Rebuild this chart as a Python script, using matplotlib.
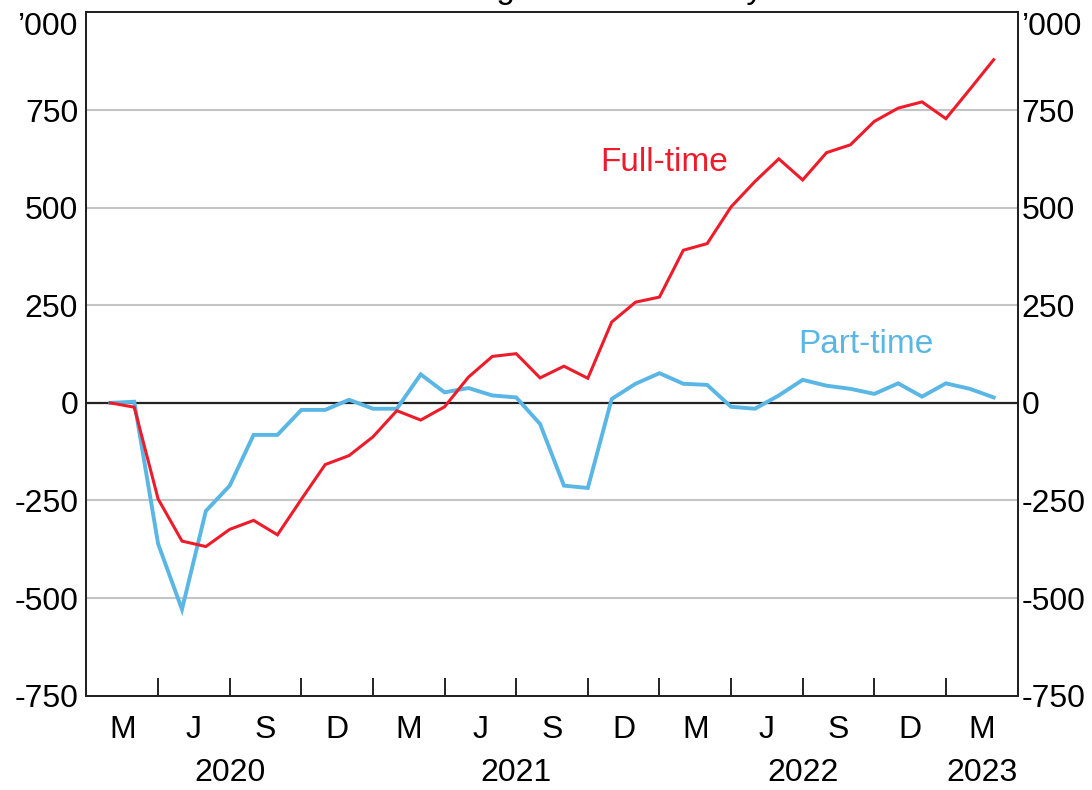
import matplotlib
matplotlib.use("Agg")
import matplotlib.pyplot as plt
import matplotlib.transforms as mtransforms

plt.rcParams['font.family'] = ['Liberation Sans', 'DejaVu Sans']

# Monthly data, Feb 2020 .. Mar 2023 (cumulative change, '000)
months = ["Feb-20", "Mar-20", "Apr-20", "May-20", "Jun-20", "Jul-20", "Aug-20", "Sep-20", "Oct-20", "Nov-20",
          "Dec-20", "Jan-21", "Feb-21", "Mar-21", "Apr-21", "May-21", "Jun-21", "Jul-21", "Aug-21", "Sep-21",
          "Oct-21", "Nov-21", "Dec-21", "Jan-22", "Feb-22", "Mar-22", "Apr-22", "May-22", "Jun-22", "Jul-22",
          "Aug-22", "Sep-22", "Oct-22", "Nov-22", "Dec-22", "Jan-23", "Feb-23", "Mar-23"]
full_time = [0, -11, -246, -354, -368, -324, -301, -338, -247, -158,
             -135, -87, -20, -44, -10, 66, 119, 126, 64, 94,
             63, 207, 258, 271, 391, 408, 502, 567, 625, 571,
             641, 661, 721, 755, 771, 728, 803, 879]
part_time = [0, 3, -361, -529, -277, -212, -82, -82, -18, -18,
             8, -15, -15, 73, 27, 38, 19, 14, -54, -212,
             -218, 10, 49, 76, 49, 46, -10, -15, 19, 59,
             44, 36, 23, 50, 16, 50, 36, 14]

quarter_labels = ["M", "J", "S", "D", "M", "J", "S", "D", "M", "J", "S", "D", "M"]
year_labels = ["2020", "2021", "2022", "2023"]
year_month_index = [6, 18, 30, 37.5]   # position in months from 1 Feb 2020
yticks = [-750, -500, -250, 0, 250, 500, 750, 1000]
ytick_labels = ["-750", "-500", "-250", "0", "250", "500", "750", "\u2019000"]

RED = "#ee1c2a"
BLUE = "#5ab6e4"
FS = 23

fig = plt.figure(figsize=(10.92, 7.90), dpi=100)
ax = fig.add_axes([0.0792, 0.1194, 0.9318 - 0.0792, 0.9842 - 0.1194])

x = [i + 1 for i in range(len(months))]

ax.set_xlim(0, 39)
ax.set_ylim(-750, 1000)

for v in yticks:
    if v == 0:
        ax.axhline(v, color="#222222", lw=1.6, zorder=2)
    elif v not in (-750, 1000):
        ax.axhline(v, color="#c4c4c4", lw=1.5, zorder=1)

ax.plot(x, part_time, color=BLUE, lw=2.8, zorder=3, solid_joinstyle="miter")
ax.plot(x, full_time, color=RED, lw=2.2, zorder=4, solid_joinstyle="miter")

ax.text(24.2, 616, "Full-time", color=RED, fontsize=FS + 1, ha="center", va="center")
ax.text(32.65, 150, "Part-time", color=BLUE, fontsize=FS + 1, ha="center", va="center")

# x axis: quarter boundaries as ticks, quarter letters in between
major = [3 * (i + 1) for i in range(12)]
minor = [1.5 + 3 * i for i in range(len(quarter_labels))]
ax.set_xticks(major)
ax.set_xticklabels([])
ax.set_xticks(minor, minor=True)
ax.set_xticklabels(quarter_labels, minor=True, fontsize=FS)
ax.tick_params(axis="x", which="major", direction="in", length=13, width=1.4, color="#222222")
ax.tick_params(axis="x", which="minor", length=0, pad=14)

trans = mtransforms.blended_transform_factory(ax.transData, fig.transFigure)
for lab, pos in zip(year_labels, year_month_index):
    ax.text(pos, 1 - 773 / 790, lab, transform=trans, fontsize=FS, ha="center", va="center")

ax.set_yticks(yticks)
ax.set_yticklabels(ytick_labels, fontsize=FS)
ax.tick_params(axis="y", length=0, pad=6)

ax2 = ax.twinx()
ax2.set_ylim(ax.get_ylim())
ax2.set_yticks(yticks)
ax2.set_yticklabels(ytick_labels, fontsize=FS)
ax2.tick_params(axis="y", length=0, pad=3)

for a in (ax, ax2):
    for lab in a.get_yticklabels():
        if lab.get_text() == "\u2019000":
            lab.set_verticalalignment("top")
    for s in a.spines.values():
        s.set_color("#222222")
        s.set_linewidth(1.4)

# title (mostly above the visible canvas, as in the reference crop)
fig.text(0.5015, 1 + 2 / 790, "Cumulative change since February 2020", fontsize=FS + 1,
         ha="center", va="baseline")

fig.savefig("out.png", dpi=100)
